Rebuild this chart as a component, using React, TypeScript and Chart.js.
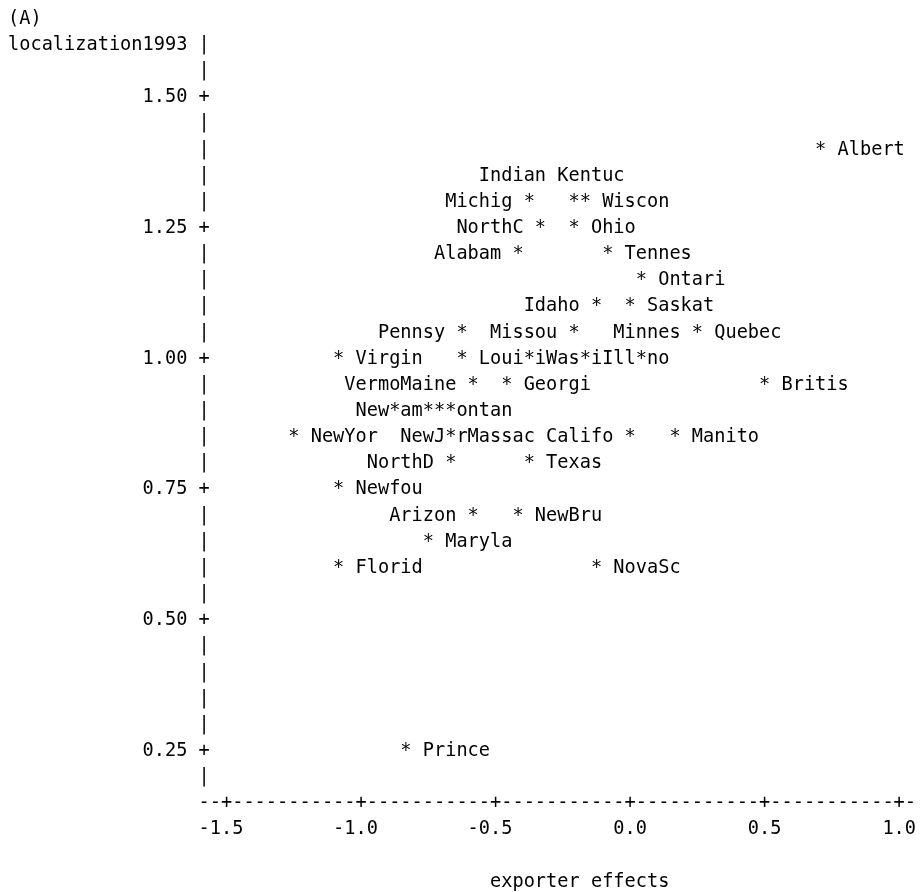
import { useEffect, useRef } from "react";
import { Chart, registerables } from "chart.js";

Chart.register(...registerables);

// ---- text of the plot ----
const panelTag = "(A)";
const yTitle = "localization1993";
const xTitle = "exporter effects";

// ---- axis ticks ----
const xTicks = [-1.5, -1.0, -0.5, 0.0, 0.5, 1.0];
const xTickLabels = ["-1.5", "-1.0", "-0.5", "0.0", "0.5", "1.0"];
const yTicks = [1.5, 1.25, 1.0, 0.75, 0.5, 0.25];
const yTickLabels = ["1.50", "1.25", "1.00", "0.75", "0.50", "0.25"];

// ---- observations (label, exporter effect, localization1993) ----
const regionLabels = [
  "Albert", "Indian", "Michig", "Kentuc", "Wiscon",
  "NorthC", "Ohio", "Alabam", "Tennes", "Ontari",
  "Idaho", "Saskat", "Pennsy", "Missou", "Minnes", "Quebec",
  "Virgin", "Louisi", "Washin", "Illino", "",
  "Vermon", "Maine", "Georgi", "Britis",
  "NewHam", "Montan", "NewJer",
  "NewYor", "Massac", "Califo", "Manito",
  "NorthD", "Texas", "Newfou", "Arizon", "NewBru",
  "Maryla", "Florid", "NovaSc", "Prince",
];
const exporterEffects = [
  0.71, -0.38, -0.38, -0.21, -0.17,
  -0.33, -0.21, -0.42, -0.08, 0.04,
  -0.12, 0.0, -0.62, -0.21, 0.25, 0.25,
  -1.08, -0.62, -0.38, -0.17, 0.04,
  -0.88, -0.58, -0.46, 0.5,
  -0.71, -0.75, -0.67,
  -1.25, -0.67, 0.0, 0.17,
  -0.67, -0.38, -1.08, -0.58, -0.42,
  -0.75, -1.08, -0.12, -0.83,
];
const localization1993 = [
  1.40, 1.30, 1.30, 1.30, 1.30,
  1.25, 1.25, 1.20, 1.20, 1.15,
  1.10, 1.10, 1.05, 1.05, 1.05, 1.05,
  1.00, 1.00, 1.00, 1.00, 1.00,
  0.90, 0.95, 0.95, 0.95,
  0.90, 0.90, 0.90,
  0.85, 0.85, 0.85, 0.85,
  0.80, 0.80, 0.75, 0.70, 0.70,
  0.65, 0.60, 0.60, 0.25,
];
// label placement relative to the symbol: R right, L left,
// AL above (ending one column right of symbol), AR above (starting one column left), BL below
const labelPlacement = [
  "R", "AL", "L", "AR", "R",
  "L", "R", "L", "R", "R",
  "L", "R", "L", "L", "L", "R",
  "R", "R", "R", "R", "R",
  "AL", "L", "R", "R",
  "L", "R", "BL",
  "R", "R", "L", "R",
  "L", "R", "R", "L", "R",
  "R", "R", "R", "R",
];

const FONT_PX = 18.6;
const FONT = `${FONT_PX}px 'DejaVu Sans Mono', monospace`;

const textGridPlugin = {
  id: "textGrid",
  afterDraw(chart: any) {
    const xs = chart.scales.x;
    const ys = chart.scales.y;
    const ctx = chart.ctx as CanvasRenderingContext2D;
    const w = (xs.getPixelForValue(1.0) - xs.getPixelForValue(-1.5)) / 60;
    const h = (ys.getPixelForValue(0.25) - ys.getPixelForValue(1.5)) / 25;
    const x0 = xs.getPixelForValue(-1.5) - 2 * w;
    const y0 = ys.getPixelForValue(1.5);
    const colOf = (px: number) => Math.round((px - x0) / w);
    const rowOf = (py: number) => Math.round((py - y0) / h);

    const grid = new Map<number, Map<number, string>>();
    const put = (r: number, c: number, s: string) => {
      if (!grid.has(r)) grid.set(r, new Map());
      const row = grid.get(r)!;
      for (let i = 0; i < s.length; i++) row.set(c + i, s[i]);
    };

    const tickRows = yTicks.map((v) => rowOf(ys.getPixelForValue(v)));
    const firstTickRow = Math.min(...tickRows);
    const lastTickRow = Math.max(...tickRows);
    const topRow = firstTickRow - 2;
    const axisRow = lastTickRow + 2;
    const tickCols = xTicks.map((v) => colOf(xs.getPixelForValue(v)));
    const lastCol = Math.max(...tickCols) + 1;

    // titles
    put(topRow - 1, -1 - yTitle.length, panelTag);
    put(topRow, -1 - yTitle.length, yTitle);

    // vertical axis
    for (let r = topRow; r < axisRow; r++) {
      const k = tickRows.indexOf(r);
      if (k >= 0) {
        put(r, 0, "+");
        put(r, -1 - yTickLabels[k].length, yTickLabels[k]);
      } else {
        put(r, 0, "|");
      }
    }
    // horizontal axis
    for (let c = 0; c <= lastCol; c++) {
      put(axisRow, c, tickCols.includes(c) ? "+" : "-");
    }
    tickCols.forEach((c, k) => {
      const lab = xTickLabels[k];
      put(axisRow + 1, c - lab.indexOf("."), lab);
    });
    const titleCenter = (tickCols[0] + tickCols[tickCols.length - 1]) / 2 + 1.5;
    put(axisRow + 3, Math.round(titleCenter - xTitle.length / 2 + 0.5), xTitle);

    // labels, then symbols
    const meta = chart.getDatasetMeta(0);
    const cells = meta.data.map((el: any) => ({ c: colOf(el.x), r: rowOf(el.y) }));
    cells.forEach(({ c, r }: any, i: number) => {
      const s = regionLabels[i];
      if (!s) return;
      switch (labelPlacement[i]) {
        case "L": put(r, c - 1 - s.length, s); break;
        case "AL": put(r - 1, c + 2 - s.length, s); break;
        case "AR": put(r - 1, c - 1, s); break;
        case "BL": put(r + 1, c + 2 - s.length, s); break;
        default: put(r, c + 2, s);
      }
    });
    cells.forEach(({ c, r }: any) => put(r, c, "*"));

    ctx.save();
    ctx.font = FONT;
    ctx.fillStyle = "#000";
    ctx.textAlign = "left";
    ctx.textBaseline = "alphabetic";
    grid.forEach((row, r) => {
      const cols = Array.from(row.keys()).sort((a, b) => a - b);
      const minC = cols[0];
      const maxC = cols[cols.length - 1];
      let str = "";
      for (let c = minC; c <= maxC; c++) str += row.get(c) ?? " ";
      const px = x0 + minC * w - w / 2;
      const py = y0 + r * h + FONT_PX * 0.365;
      ctx.save();
      const natural = ctx.measureText(str).width;
      const target = str.length * w;
      ctx.translate(px, py);
      ctx.scale(target / natural, 1);
      ctx.fillText(str, 0, 0);
      ctx.restore();
    });
    ctx.restore();
  },
};

export default function App() {
  const ref = useRef<HTMLCanvasElement | null>(null);
  useEffect(() => {
    if (!ref.current) return;
    const W = 921;
    const H = 892;
    const cw = 11.21;
    const rh = 26.15;
    const axisColX = 8 + 17.5 * cw; // centre of the axis column
    const row150Y = 17 + 3 * rh; // centre of the 1.50 row
    const xMin = -1.5 - 2 / 24;
    const xMax = 1.0 + 1 / 24;
    const yMax = 1.6;
    const yMin = 0.0;
    const chart = new Chart(ref.current, {
      type: "scatter",
      data: {
        datasets: [
          {
            data: exporterEffects.map((x, i) => ({ x, y: localization1993[i] })),
            pointRadius: 0,
            pointHoverRadius: 0,
          },
        ],
      },
      options: {
        responsive: false,
        animation: false,
        events: [],
        layout: {
          padding: {
            left: axisColX,
            right: W - (axisColX + 63 * cw),
            top: row150Y - 2 * rh,
            bottom: H - (row150Y + 30 * rh),
          },
        },
        plugins: { legend: { display: false }, tooltip: { enabled: false } },
        scales: {
          x: { type: "linear", min: xMin, max: xMax, display: false },
          y: { type: "linear", min: yMin, max: yMax, display: false },
        },
      },
      plugins: [textGridPlugin],
    });
    return () => chart.destroy();
  }, []);
  return (
    <div style={{ position: "fixed", left: 0, top: 0, width: 921, height: 892, background: "#fff" }}>
      <canvas ref={ref} width={921} height={892} style={{ display: "block" }} />
    </div>
  );
}
